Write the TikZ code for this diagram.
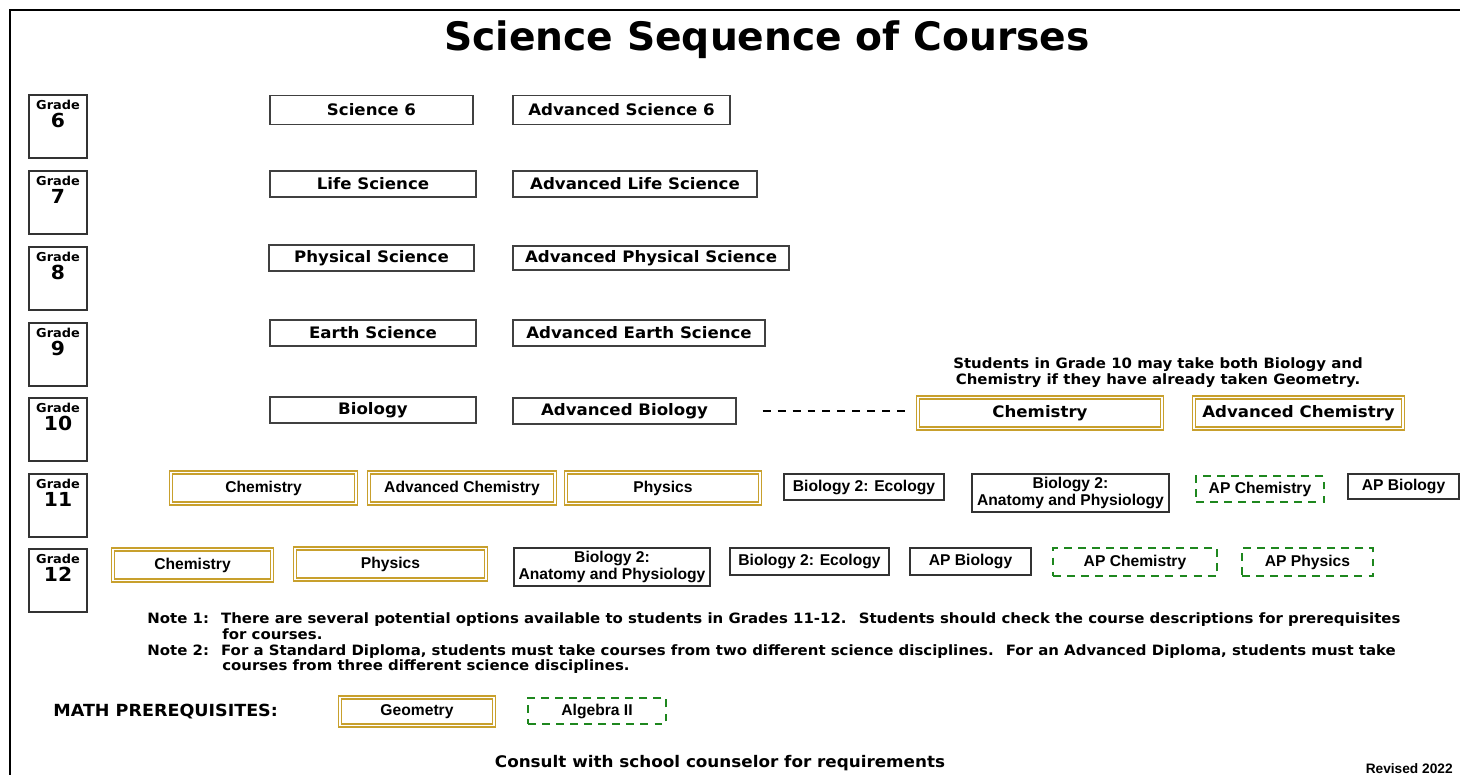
\documentclass[tikz,border=0pt]{standalone}
\usepackage{fontspec}
\usepackage{tikz}
\newfontfamily\verd[FakeStretch=1.05]{DejaVu Sans}
\newfontfamily\verdtitle{DejaVu Sans}
\newfontfamily\arl{Liberation Sans}
\definecolor{goldbox}{RGB}{200,160,45}
\definecolor{apgreen}{RGB}{30,135,30}

\begin{document}
\begin{tikzpicture}[x=0.2mm,y=-0.2mm,
  gradebox/.style={draw=black!80,line width=0.8pt,minimum width=11.6mm,minimum height=12.6mm,inner sep=0pt},
  gradetxt/.style={font=\verd\bfseries\fontsize{7}{7}\selectfont,inner sep=0pt},
  gradenum/.style={font=\verd\bfseries\fontsize{11}{11}\selectfont,inner sep=0pt},
  vbox/.style={draw=black!75,line width=0.8pt,inner sep=0pt,font=\verd\bfseries\fontsize{9}{10}\selectfont},
  abox/.style={draw=black!80,line width=0.8pt,inner sep=0pt,align=center,font=\arl\bfseries\fontsize{8.9}{10}\selectfont},
  gold/.style={draw=goldbox,double=white,double distance=1pt,line width=0.75pt},
  apbox/.style={draw=apgreen,dash pattern=on 4.5pt off 3.5pt,line width=1.2pt},
  notetxt/.style={font=\verd\bfseries\fontsize{8.1}{7.2}\selectfont,inner sep=0pt,align=left}]
  \useasboundingbox (0,0) rectangle (1460,775);

  % frame and title
  \draw[line width=1.1pt] (10,775) -- (10,10) -- (1460,10);
  \node[font=\verdtitle\bfseries\fontsize{22.3}{26}\selectfont] (title) at (767,40) {Science Sequence of Courses};

  % grade boxes
  \node[gradebox] (gsix) at (58,126.5) {};
  \node[gradetxt] (gsixa) at (58,104.5) {Grade};
  \node[gradenum] (gsixb) at (58,120.5) {6};
  \node[gradebox] (gseven) at (58,202.5) {};
  \node[gradetxt] (gsevena) at (58,180.5) {Grade};
  \node[gradenum] (gsevenb) at (58,196.5) {7};
  \node[gradebox] (geight) at (58,278.5) {};
  \node[gradetxt] (geighta) at (58,256.5) {Grade};
  \node[gradenum] (geightb) at (58,272.5) {8};
  \node[gradebox] (gnine) at (58,354.5) {};
  \node[gradetxt] (gninea) at (58,332.5) {Grade};
  \node[gradenum] (gnineb) at (58,348.5) {9};
  \node[gradebox] (gten) at (58,429.5) {};
  \node[gradetxt] (gtena) at (58,407.5) {Grade};
  \node[gradenum] (gtenb) at (58,423.5) {10};
  \node[gradebox] (geleven) at (58,505.5) {};
  \node[gradetxt] (gelevena) at (58,483.5) {Grade};
  \node[gradenum] (gelevenb) at (58,499.5) {11};
  \node[gradebox] (gtwelve) at (58,580.5) {};
  \node[gradetxt] (gtwelvea) at (58,558.5) {Grade};
  \node[gradenum] (gtwelveb) at (58,574.5) {12};

  % grades 6 to 9
  \node[vbox,minimum width=40.6mm,minimum height=5.9mm] (scisix) at (371.5,110) {Science 6};
  \node[vbox,minimum width=43.4mm,minimum height=5.9mm] (advscisix) at (621.5,110) {Advanced Science 6};
  \node[vbox,minimum width=41.2mm,minimum height=5.2mm] (life) at (373,184) {Life Science};
  \node[vbox,minimum width=48.8mm,minimum height=5.2mm] (advlife) at (635,184) {Advanced Life Science};
  \node[vbox,minimum width=41mm,minimum height=5.2mm] (phys) at (371.5,258) {Physical Science};
  \node[vbox,minimum width=55.2mm,minimum height=4.8mm] (advphys) at (651,258) {Advanced Physical Science};
  \node[vbox,minimum width=41.2mm,minimum height=5.2mm] (earth) at (373,333) {Earth Science};
  \node[vbox,minimum width=50.4mm,minimum height=5.2mm] (advearth) at (639,333) {Advanced Earth Science};

  % grade 10
  \node[vbox,minimum width=41.2mm,minimum height=5.2mm] (bio) at (373,410) {Biology};
  \node[vbox,minimum width=44.6mm,minimum height=5.2mm] (advbio) at (624.5,411) {Advanced Biology};
  \node[vbox,gold,minimum width=48.8mm,minimum height=6.2mm] (chemten) at (1040,413) {Chemistry};
  \node[vbox,gold,minimum width=41.8mm,minimum height=6.2mm] (advchemten) at (1298.5,413) {Advanced Chemistry};
  \node[notetxt,align=center,font=\verd\bfseries\fontsize{8.1}{7.6}\selectfont] (tennote) at (1158,372.5)
    {Students in Grade 10 may take both Biology and\\Chemistry if they have already taken Geometry.};
  \draw[line width=0.7pt,dash pattern=on 4.5pt off 4pt,shorten <=5.2mm,shorten >=2mm]
    (advbio.east) -- (advbio.east -| chemten.west);

  % grade 11
  \node[abox,gold,minimum width=37mm,minimum height=6.2mm] (chemel) at (263.5,488) {Chemistry};
  \node[abox,gold,minimum width=37.2mm,minimum height=6.2mm] (advchemel) at (462,488) {Advanced Chemistry};
  \node[abox,gold,minimum width=38.8mm,minimum height=6.2mm] (physel) at (663,488) {Physics};
  \node[abox,minimum width=32mm,minimum height=5.2mm] (ecoel) at (864,487) {Biology 2: Ecology};
  \node[abox,minimum width=39.4mm,minimum height=7.6mm] (anatel) at (1070.5,493) {Biology 2:\\Anatomy and Physiology};
  \node[abox,apbox,minimum width=25.6mm,minimum height=5.2mm] (apchemel) at (1260,489) {AP Chemistry};
  \node[abox,minimum width=22.2mm,minimum height=5mm] (apbioel) at (1403.5,486.5) {AP Biology};

  % grade 12
  \node[abox,gold,minimum width=31.8mm,minimum height=6.2mm] (chemtw) at (192.5,565) {Chemistry};
  \node[abox,gold,minimum width=38.2mm,minimum height=6.2mm] (phystw) at (390.5,564) {Physics};
  \node[abox,minimum width=39.2mm,minimum height=7.6mm] (anattw) at (612,567) {Biology 2:\\Anatomy and Physiology};
  \node[abox,minimum width=31.8mm,minimum height=5.4mm] (ecotw) at (809.5,561.5) {Biology 2: Ecology};
  \node[abox,minimum width=24.2mm,minimum height=5.4mm] (apbiotw) at (970.5,561.5) {AP Biology};
  \node[abox,apbox,minimum width=32.8mm,minimum height=5.6mm] (apchemtw) at (1135,562) {AP Chemistry};
  \node[abox,apbox,minimum width=26.2mm,minimum height=5.6mm] (apphystw) at (1307.5,562) {AP Physics};

  % notes
  \node[notetxt,anchor=west] (noteone) at (147,626) {Note 1:~ There are several potential options available to students in Grades 11-12.~ Students should check the course descriptions for prerequisites\\\hspace*{15mm}for courses.};
  \node[notetxt,anchor=west] (notetwo) at (147,659) {Note 2:~ For a Standard Diploma, students must take courses from two different science disciplines.~ For an Advanced Diploma, students must take\\\hspace*{15mm}courses from three different science disciplines.};

  % math prerequisites
  \node[notetxt,anchor=west,font=\verd\bfseries\fontsize{9.5}{10}\selectfont] (mathlbl) at (53,712) {MATH PREREQUISITES:};
  \node[abox,gold,minimum width=30.8mm,minimum height=5.6mm] (geom) at (417,711.5) {Geometry};
  \node[abox,apbox,minimum width=27.6mm,minimum height=5.2mm] (algtwo) at (597,711) {Algebra II};

  % footer
  \node[font=\verd\bfseries\fontsize{9.1}{10}\selectfont,inner sep=0pt] (consult) at (720,763) {Consult with school counselor for requirements};
  \node[font=\arl\bfseries\fontsize{7.8}{9}\selectfont,inner sep=0pt,anchor=east] (revised) at (1453,769) {Revised 2022};
\end{tikzpicture}
\end{document}
